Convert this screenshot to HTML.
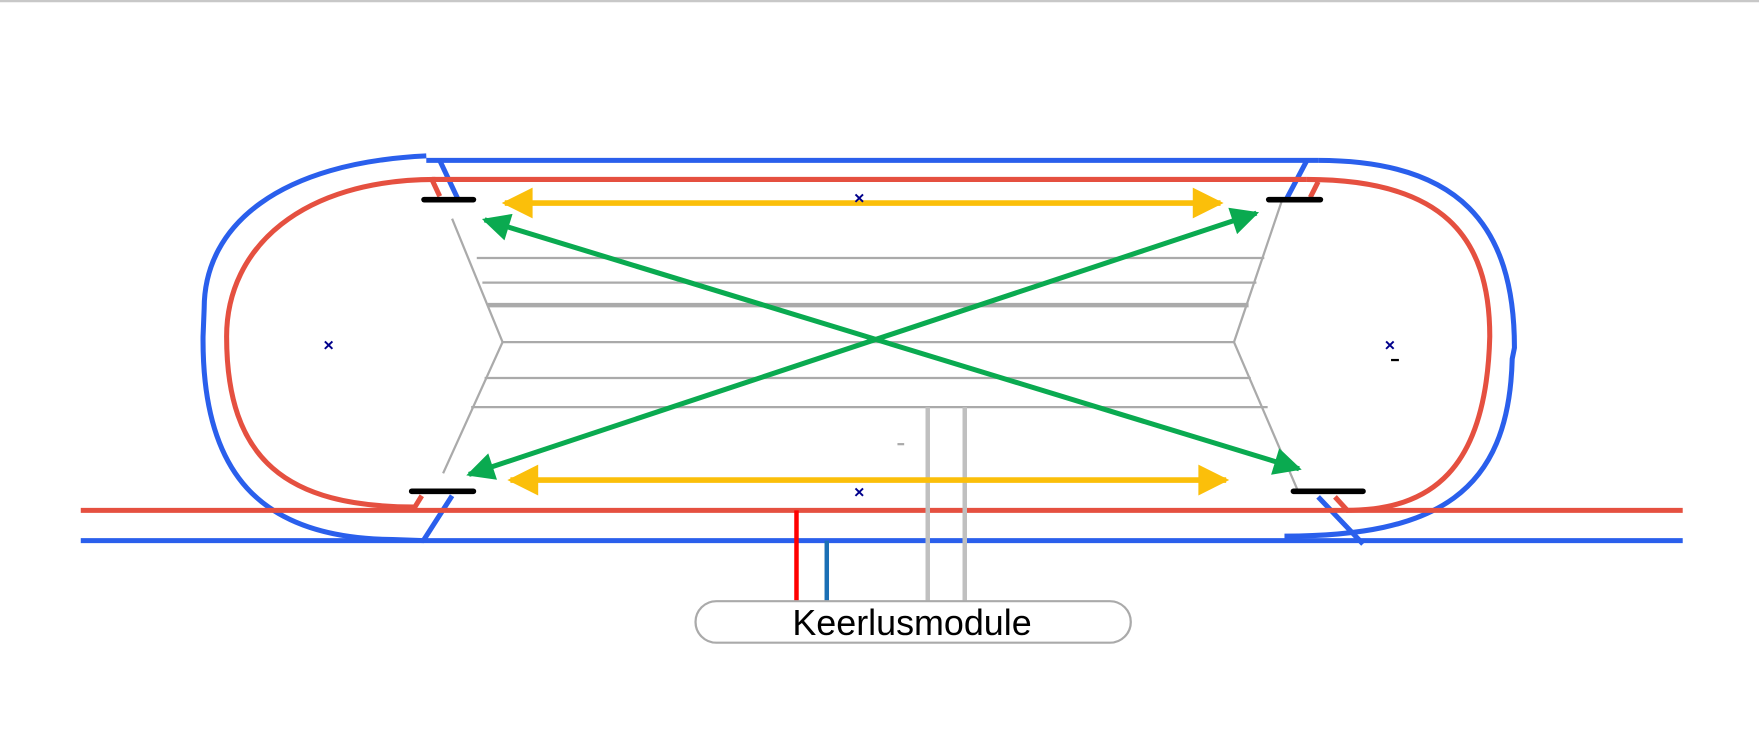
<!DOCTYPE html>
<html><head><style>html,body{margin:0;padding:0;background:#fff;}svg{display:block}</style></head>
<body>
<svg width="1759" height="747" viewBox="0 0 1568 666" preserveAspectRatio="none" xmlns="http://www.w3.org/2000/svg">
<defs>
<marker id="ya" viewBox="0 0 10 10" refX="9" refY="5" markerWidth="7" markerHeight="5.5" markerUnits="strokeWidth" orient="auto-start-reverse"><path d="M0,0 L10,5 L0,10 z" fill="#fbbf0a"/></marker>
<marker id="ga" viewBox="0 0 10 10" refX="9" refY="5" markerWidth="7" markerHeight="5.5" markerUnits="strokeWidth" orient="auto-start-reverse"><path d="M0,0 L10,5 L0,10 z" fill="#0aaa50"/></marker>
</defs>
<line x1="0" y1="1" x2="1568" y2="1" stroke="#c8c8c8" stroke-width="2"/>
<g fill="none" stroke-width="4.5">
<!-- blue -->
<line x1="380" y1="143" x2="1175" y2="143" stroke="#2a5fec"/>
<line x1="72" y1="482" x2="1500" y2="482" stroke="#2a5fec"/>
<path d="M380,139 C250,145 182,200 182,275 L181,300 C180,420 230,480 350,481 L378,482" stroke="#2a5fec"/>
<path d="M1175,143 C1300,143 1350,200 1350,310 L1348,320 C1345,440 1280,478 1145,478" stroke="#2a5fec"/>
<line x1="392" y1="143" x2="408" y2="177" stroke="#2a5fec"/>
<line x1="378" y1="481" x2="403" y2="442" stroke="#2a5fec"/>
<line x1="1165" y1="143" x2="1147" y2="177" stroke="#2a5fec"/>
<line x1="1175" y1="443" x2="1215" y2="485" stroke="#2a5fec"/>
<!-- red -->
<line x1="385" y1="160" x2="1165" y2="160" stroke="#e55040"/>
<line x1="72" y1="455" x2="1500" y2="455" stroke="#e55040"/>
<path d="M388,160 C270,160 202,220 202,300 C202,410 255,452 370,452" stroke="#e55040"/>
<path d="M1165,160 C1285,160 1328,210 1328,300 C1325,420 1275,455 1200,455" stroke="#e55040"/>
<line x1="385" y1="160" x2="392" y2="175" stroke="#e55040"/>
<line x1="368" y1="455" x2="376" y2="442" stroke="#e55040"/>
<line x1="1175" y1="162" x2="1168" y2="176" stroke="#e55040"/>
<line x1="1190" y1="443" x2="1201" y2="455" stroke="#e55040"/>
</g>
<g fill="none" stroke="#aaa" stroke-width="2">
<polyline points="403,195 448,305 395,422"/>
<polyline points="1143,178 1100,305 1158,440"/>
<line x1="425" y1="230" x2="1127" y2="230"/>
<line x1="430" y1="252" x2="1120" y2="252"/>
<line x1="435" y1="272" x2="1113" y2="272" stroke-width="4"/>
<line x1="448" y1="305" x2="1100" y2="305"/>
<line x1="432" y1="337" x2="1115" y2="337"/>
<line x1="420" y1="363" x2="1130" y2="363"/>
<line x1="800" y1="396" x2="806" y2="396"/>
</g>
<line x1="827" y1="363" x2="827" y2="537" stroke="#c0c0c0" stroke-width="4"/>
<line x1="860" y1="363" x2="860" y2="537" stroke="#c0c0c0" stroke-width="4"/>
<line x1="710" y1="455" x2="710" y2="537" stroke="#f00" stroke-width="4"/>
<line x1="737" y1="482" x2="737" y2="537" stroke="#1a6fb5" stroke-width="4"/>
<g stroke="#000" stroke-width="5" stroke-linecap="round">
<line x1="378" y1="178" x2="422" y2="178"/>
<line x1="367" y1="438" x2="422" y2="438"/>
<line x1="1131" y1="178" x2="1177" y2="178"/>
<line x1="1153" y1="438" x2="1215" y2="438"/>
</g>
<line x1="450" y1="181" x2="1088" y2="181" stroke="#fbbf0a" stroke-width="5" marker-start="url(#ya)" marker-end="url(#ya)"/>
<line x1="455" y1="428" x2="1093" y2="428" stroke="#fbbf0a" stroke-width="5" marker-start="url(#ya)" marker-end="url(#ya)"/>
<line x1="432" y1="196" x2="1158" y2="418" stroke="#0aaa50" stroke-width="4.5" marker-start="url(#ga)" marker-end="url(#ga)"/>
<line x1="418" y1="423" x2="1120" y2="190" stroke="#0aaa50" stroke-width="4.5" marker-start="url(#ga)" marker-end="url(#ga)"/>
<g font-family="Liberation Sans, sans-serif" font-size="16" fill="#00008b" text-anchor="middle" font-weight="bold">
<text x="766" y="182">×</text>
<text x="766" y="444">×</text>
<text x="293" y="313">×</text>
<text x="1239" y="313">×</text>
</g>
<line x1="1240" y1="321" x2="1247" y2="321" stroke="#000" stroke-width="2"/>
<rect x="620" y="536" width="388" height="37" rx="18.5" fill="#fff" stroke="#aaa" stroke-width="2"/>
<text x="813" y="566" font-family="Liberation Sans, sans-serif" font-size="32" text-anchor="middle" fill="#000">Keerlusmodule</text>
</svg>
</body></html>
